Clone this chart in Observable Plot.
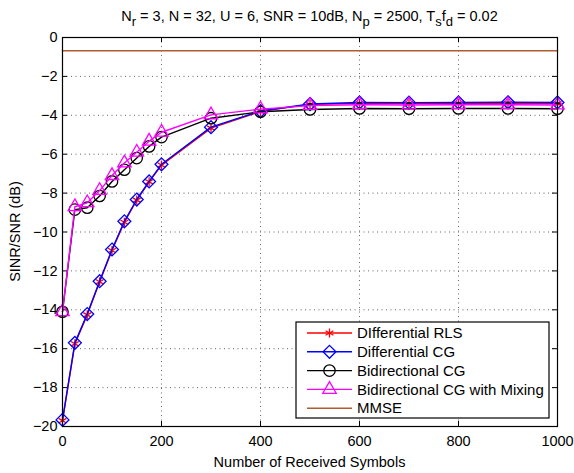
<!DOCTYPE html>
<html><head><meta charset="utf-8">
<script src="https://cdn.jsdelivr.net/npm/d3@7"></script>
<script src="https://cdn.jsdelivr.net/npm/@observablehq/plot@0.6"></script>
<style>body{margin:0;background:#fff} svg{display:block}</style>
</head><body><div id="chart"></div>
<script>
// ---- data ----
const symbolsRx = [0, 25, 50, 75, 100, 125, 150, 175, 200, 300, 400, 500, 600, 700, 800, 900, 1000];
const diffRLS   = [-19.70, -15.75, -14.26, -12.56, -10.95, -9.50, -8.36, -7.42, -6.56, -4.66, -3.80, -3.44, -3.39, -3.40, -3.39, -3.39, -3.40];
const diffCG    = [-19.66, -15.70, -14.22, -12.53, -10.90, -9.45, -8.33, -7.40, -6.52, -4.61, -3.78, -3.42, -3.34, -3.35, -3.34, -3.33, -3.34];
const bidirCG   = [-14.10, -8.85, -8.75, -8.15, -7.40, -6.80, -6.20, -5.60, -5.12, -4.15, -3.82, -3.70, -3.65, -3.66, -3.65, -3.65, -3.66];
const bidirCGMix= [-14.10, -8.70, -8.50, -7.87, -7.10, -6.45, -5.90, -5.33, -4.87, -3.98, -3.68, -3.50, -3.46, -3.47, -3.46, -3.46, -3.47];
const mmseX     = [0, 1000];
const mmseY     = [-0.68, -0.68];
const xTicks = [0, 200, 400, 600, 800, 1000];
const yTicks = [0, -2, -4, -6, -8, -10, -12, -14, -16, -18, -20];
const seriesNames = ["DIfferential RLS", "Differential CG", "Bidirectional CG", "Bidirectional CG with Mixing", "MMSE"];
const seriesColors = ["#ff0000", "#0000ff", "#000000", "#ff00ff", "#b05c30"];

// ---- layout ----
const W = 574, H = 473, mL = 62, mR = 17, mT = 37, mB = 47;
const fw = W - mL - mR, fh = H - mT - mB;
const FONT = "Liberation Sans, Arial, Helvetica, sans-serif";

const toRows = (ys, xs = symbolsRx) => xs.map((x, i) => ({x, y: ys[i]}));
const rRLS = toRows(diffRLS), rDCG = toRows(diffCG), rB = toRows(bidirCG), rBM = toRows(bidirCGMix), rM = toRows(mmseY, mmseX);

const sym = {
  rls: {symbol: "asterisk", r: 4.3},
  dcg: {symbol: "diamond2", r: 5.8},
  b:   {symbol: "circle", r: 5.7},
  bm:  {symbol: "triangle", r: 5.0}
};

const chart = Plot.plot({
  width: W, height: H,
  marginLeft: mL, marginRight: mR, marginTop: mT, marginBottom: mB,
  style: {fontFamily: FONT, fontSize: "14.5px", background: "#fff", color: "#000"},
  x: {domain: [0, 1000], ticks: xTicks, label: null, tickSize: 0, tickPadding: 9, tickFormat: d => String(d)},
  y: {domain: [-20, 0], ticks: yTicks, label: null, tickSize: 0, tickPadding: 5, tickFormat: d => d < 0 ? "\u2212" + Math.abs(d) : String(d)},
  marks: [
    Plot.ruleX(xTicks.filter(d => d > 0 && d < 1000), {stroke: "#666", strokeWidth: 1, strokeDasharray: "1,3.5"}),
    Plot.ruleY(yTicks.filter(d => d > -20 && d < 0), {stroke: "#666", strokeWidth: 1, strokeDasharray: "1,3.5"}),
    Plot.tickX(xTicks, {x: d => d, insetTop: fh - 5, stroke: "#000"}),
    Plot.tickX(xTicks, {x: d => d, insetBottom: fh - 5, stroke: "#000"}),
    Plot.tickY(yTicks, {y: d => d, insetRight: fw - 5, stroke: "#000"}),
    Plot.tickY(yTicks, {y: d => d, insetLeft: fw - 5, stroke: "#000"}),
    Plot.line(rRLS, {x: "x", y: "y", stroke: seriesColors[0], strokeWidth: 1.4}),
    Plot.dot(rRLS, {x: "x", y: "y", stroke: seriesColors[0], strokeWidth: 1.3, ...sym.rls}),
    Plot.line(rDCG, {x: "x", y: "y", stroke: seriesColors[1], strokeWidth: 1.4}),
    Plot.dot(rDCG, {x: "x", y: "y", stroke: seriesColors[1], strokeWidth: 1.3, ...sym.dcg}),
    Plot.line(rB, {x: "x", y: "y", stroke: seriesColors[2], strokeWidth: 1.4}),
    Plot.dot(rB, {x: "x", y: "y", stroke: seriesColors[2], strokeWidth: 1.3, ...sym.b}),
    Plot.line(rBM, {x: "x", y: "y", stroke: seriesColors[3], strokeWidth: 1.4}),
    Plot.dot(rBM, {x: "x", y: "y", stroke: seriesColors[3], strokeWidth: 1.3, ...sym.bm}),
    Plot.line(rM, {x: "x", y: "y", stroke: seriesColors[4], strokeWidth: 1.6}),
    Plot.frame({stroke: "#000", strokeWidth: 1.2})
  ]
});
document.getElementById("chart").appendChild(chart);

// ---- title, axis labels, legend ----
const svg = d3.select(chart);
const title = svg.append("text")
  .attr("x", mL + fw / 2).attr("y", 21)
  .attr("text-anchor", "middle")
  .style("font-family", FONT).style("font-size", "14.5px").attr("fill", "#000");
const parts = [["N", 0], ["r", 1], [" = 3, N = 32, U = 6, SNR = 10dB, N", 0], ["p", 1], [" = 2500, T", 0], ["s", 1], ["f", 0], ["d", 1], [" = 0.02", 0]];
let prevSub = 0;
for (const [t, sub] of parts) {
  const ts = title.append("tspan").text(t);
  const dy = (sub - prevSub) * 5;
  if (dy) ts.attr("dy", dy);
  if (sub) ts.style("font-size", "13px");
  prevSub = sub;
}
svg.append("text")
  .attr("x", mL + fw / 2).attr("y", 467)
  .attr("text-anchor", "middle")
  .style("font-family", FONT).style("font-size", "14.5px").attr("fill", "#000")
  .text("Number of Received Symbols");
svg.append("text")
  .attr("transform", `translate(20,${mT + fh / 2}) rotate(-90)`)
  .attr("text-anchor", "middle")
  .style("font-family", FONT).style("font-size", "14.5px").attr("fill", "#000")
  .text("SINR/SNR (dB)");

const lg = svg.append("g").attr("text-anchor", "start");
const lx = 296, ly = 322, lw = 253, lh = 96;
lg.append("rect").attr("x", lx).attr("y", ly).attr("width", lw).attr("height", lh)
  .attr("fill", "#fff").attr("stroke", "#000").attr("stroke-width", 1.2);
const legendSyms = [
  [d3.symbolAsterisk, sym.rls.r], [d3.symbolDiamond2, sym.dcg.r], [d3.symbolCircle, sym.b.r], [d3.symbolTriangle, sym.bm.r], null
];
seriesNames.forEach((name, i) => {
  const yy = ly + 11 + i * 18.8;
  lg.append("line").attr("x1", lx + 11).attr("x2", lx + 56).attr("y1", yy).attr("y2", yy)
    .attr("stroke", seriesColors[i]).attr("stroke-width", 1.4);
  if (legendSyms[i]) {
    const [s, r] = legendSyms[i];
    lg.append("path").attr("d", d3.symbol(s, r * r * Math.PI)())
      .attr("transform", `translate(${lx + 33.5},${yy})`)
      .attr("fill", "none").attr("stroke", seriesColors[i]).attr("stroke-width", 1.3);
  }
  lg.append("text").attr("x", lx + 61).attr("y", yy).attr("dy", "0.35em")
    .attr("text-anchor", "start")
    .style("font-family", FONT).style("font-size", "15px").attr("fill", "#000")
    .text(name);
});
</script>
</body></html>
